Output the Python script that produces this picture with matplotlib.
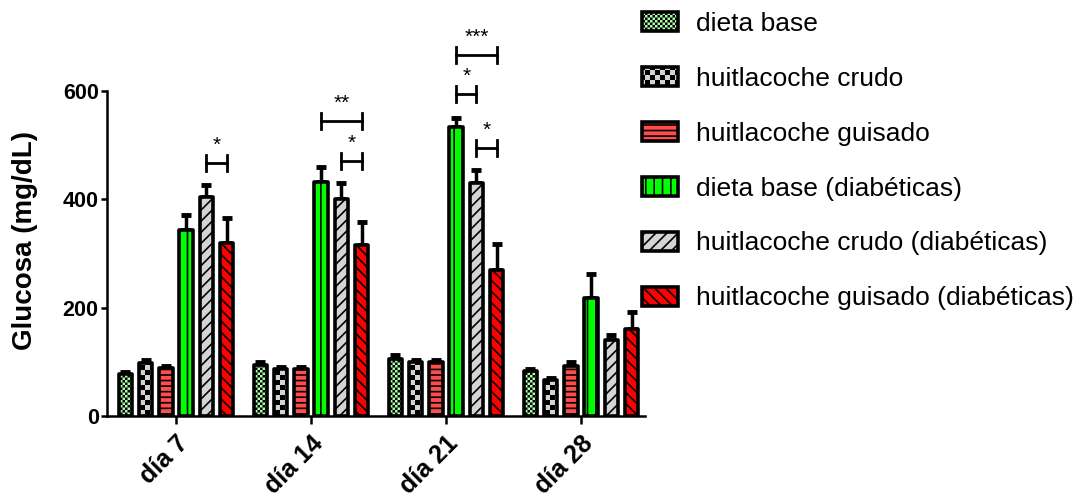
import warnings
import numpy as np
import matplotlib
matplotlib.use("Agg")
import matplotlib.pyplot as plt
import matplotlib.hatch as mhatch
from matplotlib.path import Path

warnings.simplefilter("ignore")

# Datos: glucosa (mg/dL), media y error estándar por grupo y día
dias = ["día 7", "día 14", "día 21", "día 28"]
grupos = ["dieta base", "huitlacoche crudo", "huitlacoche guisado",
          "dieta base (diabéticas)", "huitlacoche crudo (diabéticas)",
          "huitlacoche guisado (diabéticas)"]

dieta_base = [78, 95, 106, 83]
dieta_base_ee = [4, 5, 6, 4]
crudo = [98, 87, 99, 67]
crudo_ee = [5, 4, 5, 3]
guisado = [88, 86, 99, 93]
guisado_ee = [5, 4, 4, 7]
dieta_base_diab = [343, 432, 533, 218]
dieta_base_diab_ee = [28, 28, 18, 45]
crudo_diab = [405, 401, 430, 140]
crudo_diab_ee = [22, 30, 25, 10]
guisado_diab = [320, 316, 270, 160]
guisado_diab_ee = [46, 43, 48, 32]

# Comparaciones significativas: (día, barra inicial, barra final, altura, texto)
comparaciones = [
    (0, 4, 5, 467, "*"),
    (1, 3, 5, 545, "**"),
    (1, 4, 5, 471, "*"),
    (2, 3, 5, 666, "***"),
    (2, 3, 4, 594, "*"),
    (2, 4, 5, 495, "*"),
]

medias = [dieta_base, crudo, guisado, dieta_base_diab, crudo_diab, guisado_diab]
errores = [dieta_base_ee, crudo_ee, guisado_ee, dieta_base_diab_ee, crudo_diab_ee, guisado_diab_ee]


# Trama de cuadros (tablero de ajedrez): 'c' cuadros grandes, 'k' cuadros pequeños
class Damero(mhatch.HatchPatternBase):
    celdas = {"c": 20, "k": 40}

    def __init__(self, hatch, density):
        self.n = 0
        for letra, n in self.celdas.items():
            if letra in hatch:
                self.n = n
        self.num_vertices = (self.n * self.n // 2) * 5

    def set_vertices_and_codes(self, vertices, codes):
        paso = 1.0 / self.n
        grosor = plt.rcParams["hatch.linewidth"] / 72
        cuadro = np.array([[0, 0], [1, 0], [1, 1], [0, 1], [0, 0]], float)
        cuadro = cuadro * max(paso - grosor, paso * 0.15) + min(grosor / 2, paso * 0.425)
        k = 0
        for i in range(self.n):
            for j in range(self.n):
                if (i + j) % 2 == 0:
                    vertices[k:k + 5] = cuadro + [i * paso, j * paso]
                    codes[k:k + 5] = [Path.MOVETO, Path.LINETO, Path.LINETO,
                                      Path.LINETO, Path.CLOSEPOLY]
                    k += 5


mhatch._hatch_types.append(Damero)

plt.rcParams["font.family"] = ["Liberation Sans", "DejaVu Sans"]
plt.rcParams["hatch.linewidth"] = 1.2
plt.rcParams["axes.linewidth"] = 1.8

colores = ["#a8ffa8", "#d4d4d4", "#ff4c4c", "#00ff00", "#d4d4d4", "#ff0000"]
tramas = ["k", "c", "---", "||", "///", "\\\\\\"]

fig = plt.figure(figsize=(10.83, 4.97), dpi=100)
ax = fig.add_axes([107 / 1083, 81 / 497, 538 / 1083, 406 / 497])

desplaz = (np.arange(6) - 2.5) * 0.15
ancho = 0.1
x = np.arange(len(dias))

barras = []
for k in range(6):
    b = ax.bar(x + desplaz[k], medias[k], width=ancho, color=colores[k],
               edgecolor="black", linewidth=2.6, hatch=tramas[k],
               joinstyle="round", label=grupos[k], zorder=3)
    barras.append(b)
    ax.errorbar(x + desplaz[k], medias[k], yerr=[np.zeros(len(dias)), errores[k]],
                fmt="none", ecolor="black", elinewidth=2.5, capsize=3.5,
                capthick=3.5, zorder=2)

# Corchetes de significancia
for dia, b0, b1, y, texto in comparaciones:
    x0 = dia + desplaz[b0]
    x1 = dia + desplaz[b1]
    ax.plot([x0, x1], [y, y], color="black", lw=2, zorder=4)
    ax.plot([x0, x0], [y - 15, y + 15], color="black", lw=2, zorder=4)
    ax.plot([x1, x1], [y - 15, y + 15], color="black", lw=2, zorder=4)
    ax.annotate(texto, ((x0 + x1) / 2, y), xytext=(0, 6), textcoords="offset points",
                ha="center", va="bottom", fontsize=15)

ax.set_xlim(-0.511, 3.474)
ax.set_ylim(0, 749.5)
ax.spines["top"].set_visible(False)
ax.spines["right"].set_visible(False)
ax.spines["left"].set_bounds(0, 600)

ax.set_yticks([0, 200, 400, 600])
ax.set_xticks(x)
ax.set_xticklabels(dias, rotation=45, ha="right", rotation_mode="anchor")
ax.tick_params(axis="y", length=4, width=1.8, pad=2, labelsize=15.5)
ax.tick_params(axis="x", length=6, width=1.8, pad=5, labelsize=18)
for t in ax.get_xticklabels() + ax.get_yticklabels():
    t.set_fontweight("bold")

fig.text(25 / 1083, 1 - 241 / 497, "Glucosa (mg/dL)", rotation=90,
         ha="center", va="center", fontsize=20, fontweight="bold")

fig.legend(handles=barras, labels=grupos, loc="upper left",
           bbox_to_anchor=(642 / 1083, 1 - 12 / 497), frameon=False,
           borderpad=0, borderaxespad=0, fontsize=19, handlelength=1.36,
           handleheight=0.72, handletextpad=0.7, labelspacing=1.17)

fig.savefig("out.png", dpi=100)
